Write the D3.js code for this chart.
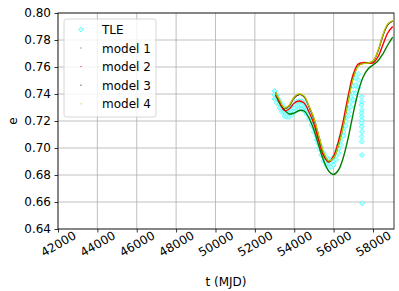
<!DOCTYPE html>
<html>
<head>
<meta charset="utf-8">
<script src="https://d3js.org/d3.v7.min.js"></script>
<style>
  body { margin: 0; background: #fff; }
  text { font-family: "DejaVu Sans", sans-serif; }
</style>
</head>
<body>
<div class="chart"></div>
<script>
// model epochs (MJD)
var modelT = [53050, 53250, 53500, 53750, 54000, 54250, 54500, 54750, 55000, 55250,
  55500, 55750, 56000, 56250, 56500, 56750, 57000, 57250, 57500, 57750,
  58000, 58250, 58500, 58750, 59000];

var model1 = [.7393, .7333, .7281, .7252, .7259, .7278, .7274, .7222, .7133, .7015,
  .6904, .6830, .6804, .6837, .6933, .7081, .7259, .7415, .7526, .7585,
  .7615, .7644, .7696, .7763, .7822];
var model2 = [.7410, .7341, .7278, .7289, .7333, .7348, .7333, .7267, .7178, .7052,
  .6941, .6896, .6941, .7052, .7207, .7393, .7548, .7622, .7633, .7630,
  .7630, .7674, .7763, .7852, .7900];
var model3 = [.7410, .7352, .7292, .7314, .7372, .7396, .7380, .7306, .7215, .7082,
  .6958, .6900, .6926, .7025, .7176, .7362, .7524, .7610, .7627, .7630,
  .7642, .7714, .7830, .7912, .7940];
var model4 = [.7410, .7356, .7296, .7319, .7378, .7402, .7385, .7311, .7222, .7089,
  .6963, .6904, .6926, .7022, .7170, .7356, .7519, .7607, .7626, .7630,
  .7644, .7719, .7837, .7919, .7944];

// TLE band (upper / middle / lower points per epoch)
var tleT = [53000, 53125, 53250, 53375, 53500, 53625, 53750, 53875, 54000, 54125,
  54250, 54375, 54500, 54625, 54750, 54875, 55000, 55125, 55250, 55375,
  55500, 55625, 55750, 55875, 56000, 56125, 56250, 56375, 56500, 56625,
  56750, 56875, 57000, 57125, 57250];
var tleHi = [.7422, .7393, .7356, .7326, .7296, .7281, .7289, .7304, .7319, .7341,
  .7348, .7348, .7333, .7311, .7274, .7230, .7178, .7119, .7059, .7007,
  .6963, .6933, .6911, .6911, .6933, .6970, .7022, .7081, .7148, .7222,
  .7296, .7378, .7459, .7519, .7548];
var tleMid = [.7393, .7363, .7326, .7296, .7267, .7256, .7259, .7274, .7293, .7311,
  .7319, .7319, .7304, .7281, .7244, .7200, .7148, .7089, .7030, .6978,
  .6933, .6904, .6885, .6885, .6904, .6941, .6993, .7052, .7119, .7193,
  .7267, .7341, .7407, .7467, .7504];
var tleLo = [.7363, .7333, .7296, .7267, .7237, .7230, .7230, .7244, .7267, .7281,
  .7289, .7289, .7274, .7252, .7215, .7170, .7119, .7059, .7000, .6948,
  .6904, .6874, .6859, .6859, .6874, .6911, .6963, .7022, .7089, .7163,
  .7237, .7304, .7356, .7407, .7444];

// scattered TLE points near 57400
var tleOutT = [57420, 57430, 57410, 57440, 57420, 57430, 57440, 57420, 57430, 57440,
  57420, 57430, 57440, 57450];
var tleOutE = [.7380, .7343, .7319, .7281, .7257, .7232, .7207, .7183, .7158, .7121,
  .7084, .7047, .6948, .6590];

var xTicks = [42000, 44000, 46000, 48000, 50000, 52000, 54000, 56000, 58000];
var yTicks = [0.64, 0.66, 0.68, 0.70, 0.72, 0.74, 0.76, 0.78, 0.80];
var seriesNames = ["model 1", "model 2", "model 3", "model 4"];
var seriesColors = ["#008000", "#ff0000", "#000000", "#bfbf00"];

var svgWidth = 399;
var svgHeight = 291;

var margin = { top: 13, right: 5, bottom: 62, left: 58 };
var width = svgWidth - margin.left - margin.right;
var height = svgHeight - margin.top - margin.bottom;

var svg = d3.select(".chart")
  .append("svg")
  .attr("width", svgWidth)
  .attr("height", svgHeight);

var chartGroup = svg.append("g")
  .attr("transform", `translate(${margin.left}, ${margin.top})`);

var xScale = d3.scaleLinear().domain([42000, 59068]).range([0, width]);
var yScale = d3.scaleLinear().domain([0.64, 0.80]).range([height, 0]);

// grid
chartGroup.append("g")
  .selectAll("line")
  .data(xTicks)
  .enter()
  .append("line")
  .attr("x1", d => xScale(d)).attr("x2", d => xScale(d))
  .attr("y1", 0).attr("y2", height)
  .attr("stroke", "#b0b0b0").attr("stroke-width", 0.8);

chartGroup.append("g")
  .selectAll("line")
  .data(yTicks)
  .enter()
  .append("line")
  .attr("y1", d => yScale(d)).attr("y2", d => yScale(d))
  .attr("x1", 0).attr("x2", width)
  .attr("stroke", "#b0b0b0").attr("stroke-width", 0.8);

// clip for data
svg.append("clipPath").attr("id", "clip")
  .append("rect").attr("width", width).attr("height", height);

var dataGroup = chartGroup.append("g").attr("clip-path", "url(#clip)");

// TLE diamonds
var tlePts = [];
tleT.forEach(function(t, i) {
  tlePts.push([t, tleHi[i]], [t, tleMid[i]], [t, tleLo[i]]);
});
tleOutT.forEach(function(t, i) {
  tlePts.push([t, tleOutE[i]]);
});

var diamond = d3.symbol().type(d3.symbolDiamond2).size(16);

dataGroup.selectAll(".tle")
  .data(tlePts)
  .enter()
  .append("path")
  .attr("class", "tle")
  .attr("d", diamond)
  .attr("transform", d => `translate(${xScale(d[0])}, ${yScale(d[1])})`)
  .attr("fill", "#bfffff")
  .attr("stroke", "#40ffff")
  .attr("stroke-width", 0.8);

// model curves
var models = [model1, model2, model3, model4];
var line = d3.line()
  .x((d, i) => xScale(modelT[i]))
  .y(d => yScale(d))
  .curve(d3.curveCatmullRom);

models.forEach(function(m, k) {
  dataGroup.append("path")
    .datum(m)
    .attr("d", line)
    .attr("fill", "none")
    .attr("stroke", seriesColors[k])
    .attr("stroke-width", k === 2 ? 1.2 : 1.4);
});

// axes
var bottomAxis = d3.axisBottom(xScale).tickValues(xTicks).tickSize(3.5).tickPadding(3.5)
  .tickFormat(d3.format("d"));
var leftAxis = d3.axisLeft(yScale).tickValues(yTicks).tickSize(3.5).tickPadding(3.5)
  .tickFormat(d3.format(".2f"));

var xAxis = chartGroup.append("g")
  .attr("transform", `translate(0, ${height})`)
  .call(bottomAxis);

xAxis.selectAll("text")
  .attr("font-size", 12)
  .attr("fill", "#000")
  .attr("text-anchor", "middle")
  .attr("dy", null)
  .attr("y", 15)
  .attr("dominant-baseline", "central")
  .attr("transform", "rotate(-30, 0, 15)");

var yAxis = chartGroup.append("g").call(leftAxis);
yAxis.selectAll("text").attr("font-size", 12).attr("fill", "#000");

chartGroup.selectAll(".domain").remove();
chartGroup.selectAll(".tick line").attr("stroke", "#000").attr("stroke-width", 0.8);

// frame
chartGroup.append("rect")
  .attr("width", width).attr("height", height)
  .attr("fill", "none").attr("stroke", "#000").attr("stroke-width", 0.8);

// axis labels
svg.append("text")
  .attr("x", margin.left + width / 2)
  .attr("y", 286)
  .attr("text-anchor", "middle")
  .attr("font-size", 12)
  .text("t (MJD)");

svg.append("text")
  .attr("transform", `translate(17, ${margin.top + height / 2}) rotate(-90)`)
  .attr("text-anchor", "middle")
  .attr("font-size", 12)
  .text("e");

// legend
var legend = svg.append("g").attr("transform", "translate(64, 19)");

legend.append("rect")
  .attr("width", 92).attr("height", 98)
  .attr("rx", 2.5)
  .attr("fill", "#fff").attr("fill-opacity", 0.8)
  .attr("stroke", "#cccccc").attr("stroke-width", 0.8);

legend.append("path")
  .attr("d", diamond)
  .attr("transform", "translate(17, 10.5)")
  .attr("fill", "#d8ffff")
  .attr("stroke", "#40ffff")
  .attr("stroke-width", 0.8);

legend.append("text")
  .attr("x", 38).attr("y", 15)
  .attr("font-size", 12)
  .text("TLE");

seriesNames.forEach(function(name, k) {
  var yy = 29 + k * 18.6;
  legend.append("rect")
    .attr("x", 16.5).attr("y", yy - 0.5)
    .attr("width", 1).attr("height", 1)
    .attr("fill", seriesColors[k]);
  legend.append("text")
    .attr("x", 38).attr("y", yy + 4.5)
    .attr("font-size", 12)
    .text(name);
});
</script>
</body>
</html>
